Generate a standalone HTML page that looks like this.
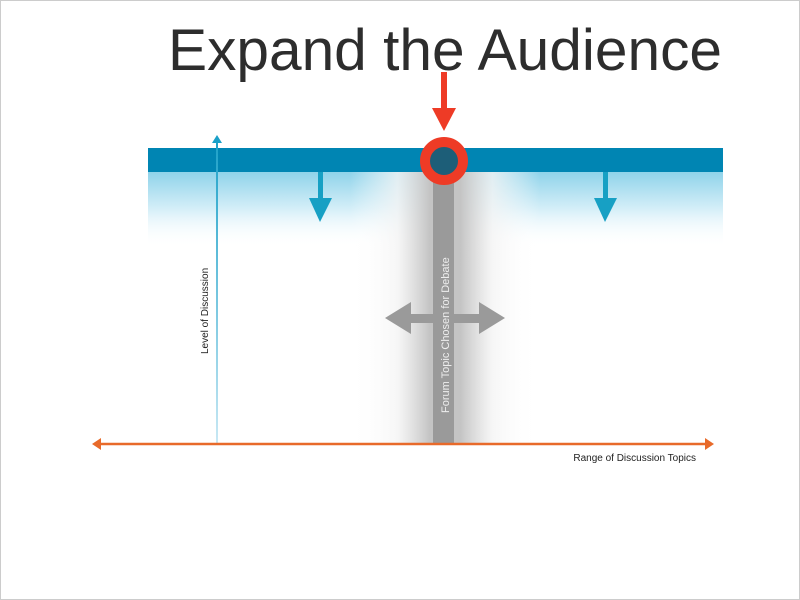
<!DOCTYPE html>
<html><head><style>
body{margin:0;width:800px;height:600px;background:#fff;overflow:hidden;position:relative;font-family:"Liberation Sans",sans-serif}
.frame{position:absolute;left:0;top:0;width:798px;height:598px;border:1px solid #ccc}
</style></head><body>
<div class="frame"></div>
<svg width="800" height="600" style="position:absolute;left:0;top:0">
<defs>
<linearGradient id="bg" x1="0" y1="0" x2="0" y2="1">
<stop offset="0" stop-color="#8fd3ea"/><stop offset="0.5" stop-color="#d6eff8"/><stop offset="1" stop-color="#fff" stop-opacity="0"/></linearGradient>
<linearGradient id="gg" x1="0" y1="0" x2="1" y2="0">
<stop offset="0" stop-color="#fff" stop-opacity="0"/><stop offset="0.25" stop-color="#f4f4f4" stop-opacity="0.8"/><stop offset="0.42" stop-color="#c4c4c4"/><stop offset="0.58" stop-color="#c4c4c4"/><stop offset="0.75" stop-color="#f4f4f4" stop-opacity="0.8"/><stop offset="1" stop-color="#fff" stop-opacity="0"/></linearGradient>
<linearGradient id="lb" gradientUnits="userSpaceOnUse" x1="0" y1="135" x2="0" y2="443"><stop offset="0" stop-color="#1aa0c8"/><stop offset="1" stop-color="#c8e8f4"/></linearGradient>
</defs>
<rect x="148" y="172" width="575" height="75" fill="url(#bg)"/>
<rect x="350" y="172" width="190" height="273" fill="url(#gg)"/>
<rect x="148" y="148" width="575" height="24" fill="#0085b3"/>
<rect x="433" y="172" width="21" height="273" fill="#9a9a9a"/>
<rect x="216" y="142" width="2" height="301" fill="url(#lb)"/>
<polygon points="212,143 217,135 222,143" fill="#1aa0c8"/>
<rect x="318" y="172" width="5" height="28" fill="#17a0c4"/><polygon points="309,198 332,198 320,222" fill="#17a0c4"/>
<rect x="603" y="172" width="5" height="28" fill="#17a0c4"/><polygon points="594,198 617,198 605,222" fill="#17a0c4"/>
<circle cx="444" cy="161" r="19" fill="#1d5e78" stroke="#ee3b26" stroke-width="10"/>
<rect x="441" y="72" width="6" height="40" fill="#ee3b26"/><polygon points="432,108 456,108 444,131" fill="#ee3b26"/>
<rect x="405" y="314" width="80" height="9" fill="#9a9a9a"/>
<polygon points="385,318 411,302 411,334" fill="#9a9a9a"/><polygon points="505,318 479,302 479,334" fill="#9a9a9a"/>
<line x1="98" y1="444" x2="708" y2="444" stroke="#e86a2a" stroke-width="2.5"/>
<polygon points="92,444 101,438 101,450" fill="#e86a2a"/><polygon points="714,444 705,438 705,450" fill="#e86a2a"/>
<text x="696" y="461" font-size="10" text-anchor="end" fill="#222" font-family="Liberation Sans">Range of Discussion Topics</text>
<text transform="translate(208,354) rotate(-90)" font-size="10" fill="#222" font-family="Liberation Sans">Level of Discussion</text>
<text transform="translate(449,413) rotate(-90)" font-size="11" fill="#eee" font-family="Liberation Sans">Forum Topic Chosen for Debate</text>
<text x="168" y="70" font-size="58" fill="#2d2d2d" font-family="Liberation Sans" textLength="554" lengthAdjust="spacingAndGlyphs">Expand the Audience</text>
</svg>
</body></html>
